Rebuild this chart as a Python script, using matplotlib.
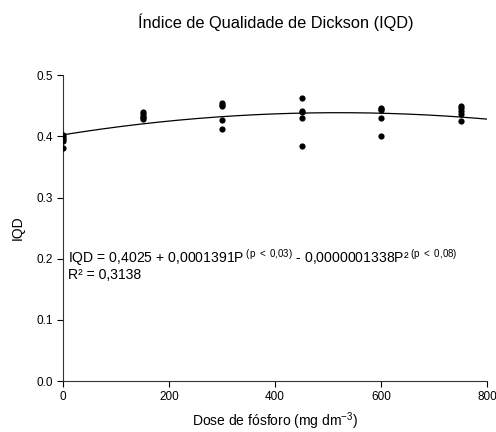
import numpy as np
import matplotlib
matplotlib.use("Agg")
import matplotlib.pyplot as plt

plt.rcParams['font.family'] = ['Liberation Sans', 'DejaVu Sans']
plt.rcParams['mathtext.fontset'] = 'custom'
plt.rcParams['mathtext.rm'] = 'Liberation Sans'
plt.rcParams['mathtext.it'] = 'Liberation Sans'
plt.rcParams['mathtext.default'] = 'regular'

doses = [0, 150, 300, 450, 600, 750]
iqd_values = [
    [0.402, 0.399, 0.395, 0.392, 0.381],
    [0.439, 0.436, 0.432, 0.429, 0.431],
    [0.454, 0.450, 0.426, 0.412, 0.452],
    [0.463, 0.441, 0.430, 0.385, 0.440],
    [0.447, 0.443, 0.430, 0.401, 0.445],
    [0.450, 0.446, 0.436, 0.425, 0.441],
]
b0, b1, b2 = 0.4025, 0.0001391, -0.0000001338

fig = plt.figure(figsize=(4.96, 4.32), dpi=100)
ax = fig.add_axes([0.127, 0.118, 0.855, 0.708])

for d, vals in zip(doses, iqd_values):
    ax.scatter([d] * len(vals), vals, s=20, color='black', zorder=3, linewidths=0)

xs = np.linspace(0, 800, 200)
ax.plot(xs, b0 + b1 * xs + b2 * xs**2, color='black', lw=0.9)

ax.set_xlim(0, 800)
ax.set_ylim(0, 0.5)
ax.set_xticks([0, 200, 400, 600, 800])
ax.set_yticks([0.0, 0.1, 0.2, 0.3, 0.4, 0.5])
ax.set_yticklabels(['0.0', '0.1', '0.2', '0.3', '0.4', '0.5'])
ax.tick_params(direction='out', length=4, labelsize=8.5, width=0.8)
for s in ['top', 'right']:
    ax.spines[s].set_visible(False)
for s in ['left', 'bottom']:
    ax.spines[s].set_linewidth(0.8)
    ax.spines[s].set_color('#333333')

ax.set_xlabel('Dose de fósforo (mg dm$^{-3}$)', fontsize=10, labelpad=5)
ax.set_ylabel('IQD', fontsize=10, labelpad=8)
fig.text(0.555, 0.949, 'Índice de Qualidade de Dickson (IQD)', ha='center', va='center', fontsize=11.8)

ax.text(10, 0.194, 'IQD = 0,4025 + 0,0001391P$^{\\ (p\\ <\\ 0{,}03)}$ - 0,0000001338P²$^{\\ (p\\ <\\ 0{,}08)}$',
        fontsize=10.1, va='baseline', ha='left')
ax.text(10, 0.166, 'R² = 0,3138', fontsize=10.1, va='baseline', ha='left')

fig.savefig('out.png', dpi=100)
